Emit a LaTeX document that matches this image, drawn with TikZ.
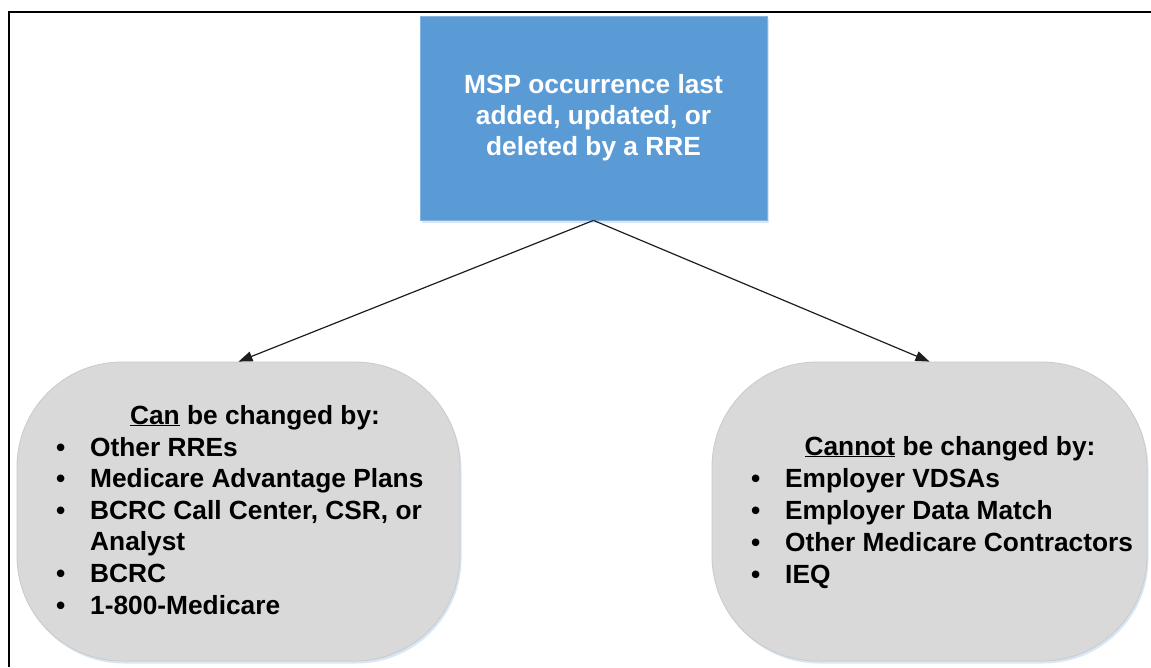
\documentclass[tikz,border=0pt]{standalone}
\usepackage{fontspec}
\setmainfont{Liberation Sans}
\usetikzlibrary{arrows.meta,shadows}
\definecolor{boxblue}{HTML}{5B9BD5}
\definecolor{boxblueedge}{HTML}{85B3E0}
\definecolor{blobgray}{HTML}{D9D9D9}
\definecolor{blobedge}{HTML}{CACACA}
\definecolor{glow}{HTML}{C9DCF0}
\definecolor{arrowgray}{HTML}{1E1E1E}
\newcommand{\blt}{\makebox[34pt][l]{\textbullet}}
\begin{document}
\begin{tikzpicture}[x=1pt,y=-1pt,
  txt/.style={font=\fontsize{26.3}{31}\selectfont\bfseries, inner sep=0pt},
  topbox/.style={rectangle, fill=boxblue, draw=boxblueedge, line width=0.8pt,
    drop shadow={shadow xshift=1.5pt, shadow yshift=-2.5pt, fill=glow, opacity=0.7},
    text=white, align=center, txt},
  blob/.style={rectangle, rounded corners=105pt, fill=blobgray, draw=blobedge, line width=0.8pt,
    drop shadow={shadow xshift=1.5pt, shadow yshift=-2.5pt, fill=glow, opacity=0.7}},
  heading/.style={txt, anchor=base},
  item/.style={txt, anchor=base west},
  conn/.style={draw=arrowgray, line width=1.2pt, -{Triangle[length=14pt,width=10pt]}}
]
\useasboundingbox (0,0) rectangle (1151,667);
\coordinate (fa) at (9,667);
\coordinate (fb) at (9,12);
\coordinate (fc) at (1151,12);
\draw[line width=2.2pt, line join=miter] (fa) -- (fb) -- (fc);

\node[topbox, minimum width=347pt, minimum height=204pt] (top) at (593.5,118)
  {MSP occurrence last\\added, updated, or\\deleted by a RRE};

\node[blob, minimum width=443pt, minimum height=299pt] (left) at (238.5,511.5) {};
\node[blob, minimum width=435pt, minimum height=299pt] (right) at (929.5,511.5) {};

\draw[conn] (top.south) -- (left.north);
\draw[conn] (top.south) -- (right.north);

\node[heading] (lh) at (255,424) {\underline{Can} be changed by:};
\node[item] (l1) at (56,456) {\blt Other RREs};
\node[item] (l2) at (56,487.6) {\blt Medicare Advantage Plans};
\node[item] (l3) at (56,519.2) {\blt BCRC Call Center, CSR, or};
\node[item] (l4) at (90,550.8) {Analyst};
\node[item] (l5) at (56,582.4) {\blt BCRC};
\node[item] (l6) at (56,614) {\blt 1-800-Medicare};

\node[heading] (rh) at (950,455) {\underline{Cannot} be changed by:};
\node[item] (r1) at (751,487) {\blt Employer VDSAs};
\node[item] (r2) at (751,519) {\blt Employer Data Match};
\node[item] (r3) at (751,551) {\blt Other Medicare Contractors};
\node[item] (r4) at (751,583) {\blt IEQ};
\end{tikzpicture}
\end{document}
